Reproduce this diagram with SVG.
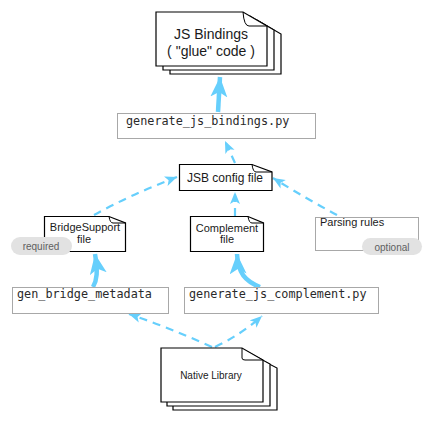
<svg xmlns="http://www.w3.org/2000/svg" width="432" height="422" viewBox="0 0 432 422">
<defs>
<style>
.doc{fill:#fff;stroke:#000;stroke-width:1.2}
.fold{fill:none;stroke:#000;stroke-width:1}
.proc{fill:#fff;stroke:#a8a8a8;stroke-width:1}
.t{font-family:"Liberation Sans",Arial,sans-serif;fill:#1a1a1a}
.m{font-family:"DejaVu Sans Mono","Liberation Mono",monospace;font-size:11.8px;fill:#2a2a2a}
.pill{fill:#e2e2e2}
.pt{font-family:"Liberation Sans",Arial,sans-serif;font-size:10px;fill:#606060;text-anchor:middle}
.solid{fill:none;stroke:#66cffc;stroke-width:4.5}
.dash{fill:none;stroke:#66cffc;stroke-width:2.2;stroke-dasharray:8,6}
</style>
<marker id="big" markerUnits="userSpaceOnUse" markerWidth="22" markerHeight="18" refX="20" refY="8.5" orient="auto">
<path d="M0,0 L20,8.5 L0,17 L5,8.5 Z" fill="#66cffc"/>
</marker>
<marker id="small" markerUnits="userSpaceOnUse" markerWidth="13" markerHeight="11" refX="12" refY="5" orient="auto">
<path d="M0,0 L12,5 L0,10 L3,5 Z" fill="#66cffc"/>
</marker>
</defs>
<rect width="432" height="422" fill="#fff"/>

<g id="connectors">
<path class="solid" d="M218,112 L220,77" marker-end="url(#big)"/>
<path class="dash" d="M235,163 L225,141" marker-end="url(#small)"/>
<path class="dash" d="M94,215 Q130,195 177,177" marker-end="url(#small)"/>
<path class="dash" d="M235,216 L235,192" marker-end="url(#small)"/>
<path class="dash" d="M337,215 Q305,198 273,178" marker-end="url(#small)"/>
<path class="solid" d="M93,287 C97,280 98,272 95,254" marker-end="url(#big)"/>
<path class="solid" d="M260,287 C245,281 238,273 237,254" marker-end="url(#big)"/>
<path class="dash" d="M212,347 Q170,328 129,314" marker-end="url(#small)"/>
<path class="dash" d="M215,347 Q242,334 262,316" marker-end="url(#small)"/>
</g>

<g id="js-bindings">
<path class="doc" d="M170,20 L257,20 L281,34 L281,74 L170,74 Z"/>
<path class="doc" d="M163,16 L250,16 L274,30 L274,70 L163,70 Z"/>
<path class="doc" d="M156,12 L243,12 L267,26 L267,66 L156,66 Z"/>
<path class="fold" d="M243,12 Q244,26 249,26 L267,26"/>
<text class="t" x="211" y="38.5" font-size="14" text-anchor="middle">JS Bindings</text>
<text class="t" x="211" y="56" font-size="14" text-anchor="middle">( "glue" code )</text>
</g>

<g id="generate-js-bindings">
<rect class="proc" x="117.5" y="113.5" width="198" height="25"/>
<text class="m" x="126" y="125">generate_js_bindings.py</text>
</g>

<g id="jsb-config">
<path class="doc" d="M179.5,164.5 L252,164.5 L272,172 L272,190.5 L179.5,190.5 Z"/>
<path class="fold" d="M252,164.5 Q253,172 256,172 L272,172"/>
<text class="t" x="225" y="182" font-size="12" text-anchor="middle">JSB config file</text>
</g>

<g id="bridgesupport">
<path class="doc" d="M44.5,216.5 L109,216.5 L125.5,223 L125.5,251.5 L44.5,251.5 Z"/>
<path class="fold" d="M109,216.5 Q110,223 113,223 L125.5,223"/>
<text class="t" x="85" y="231" font-size="11" text-anchor="middle">BridgeSupport</text>
<text class="t" x="84" y="243" font-size="11" text-anchor="middle">file</text>
<rect class="pill" x="11" y="237" width="61" height="18" rx="9"/>
<text class="pt" x="41" y="250">required</text>
</g>

<g id="complement">
<path class="doc" d="M190.5,216.5 L248,216.5 L263.5,223 L263.5,251.5 L190.5,251.5 Z"/>
<path class="fold" d="M248,216.5 Q249,223 252,223 L263.5,223"/>
<text class="t" x="227" y="232" font-size="11" text-anchor="middle">Complement</text>
<text class="t" x="227" y="243" font-size="11" text-anchor="middle">file</text>
</g>

<g id="parsing-rules">
<rect class="proc" x="315.5" y="217.5" width="103" height="33"/>
<text class="t" x="320" y="226" font-size="11">Parsing rules</text>
<rect class="pill" x="362" y="238" width="60" height="17" rx="8.5"/>
<text class="pt" x="392" y="250.5">optional</text>
</g>

<g id="gen-bridge-metadata">
<rect class="proc" x="12.5" y="287.5" width="156" height="26"/>
<text class="m" x="17" y="298">gen_bridge_metadata</text>
</g>

<g id="generate-js-complement">
<rect class="proc" x="184.5" y="287.5" width="194" height="26"/>
<text class="m" x="189" y="298">generate_js_complement.py</text>
</g>

<g id="native-library">
<path class="doc" d="M173,356 L254,356 L277,368 L277,410 L173,410 Z"/>
<path class="doc" d="M167,352 L248,352 L270,364 L270,406 L167,406 Z"/>
<path class="doc" d="M161,348 L242,348 L263,360 L263,402 L161,402 Z"/>
<path class="fold" d="M242,348 L242,358 Q242,360 245,360 L263,360"/>
<text class="t" x="211" y="379" font-size="10" text-anchor="middle" fill="#333">Native Library</text>
</g>
</svg>
